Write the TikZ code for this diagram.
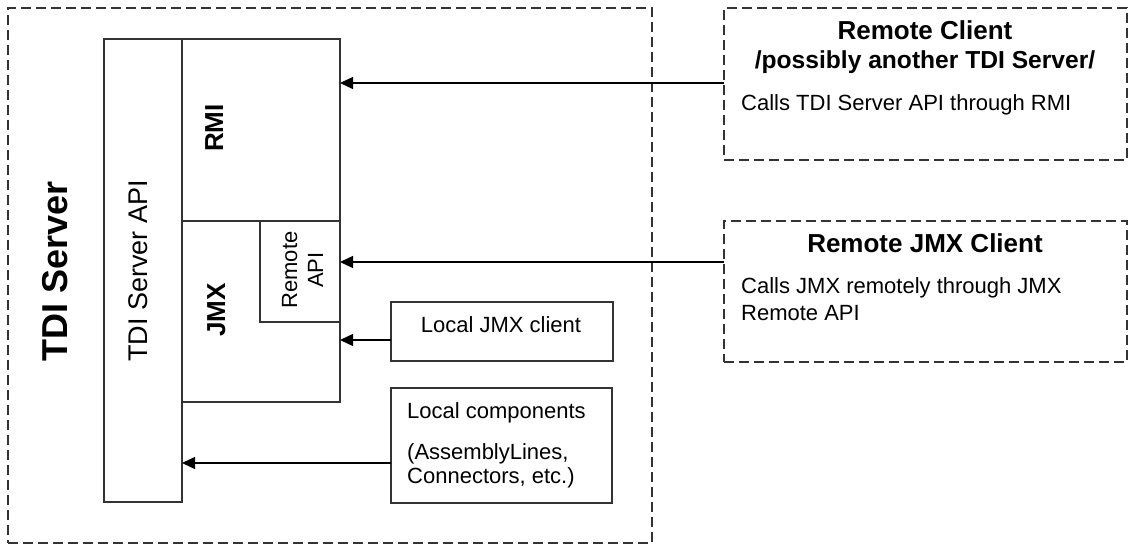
\documentclass[tikz,border=0pt]{standalone}
\usepackage{fontspec}
\setmainfont{Liberation Sans}
\usetikzlibrary{arrows.meta}
\definecolor{linegray}{HTML}{333333}
\begin{document}
\begin{tikzpicture}[x=1pt,y=-1pt,
  box/.style={draw=linegray, line width=1.4pt, anchor=north west, inner sep=0pt, outer sep=0pt},
  dbox/.style={box, dash pattern=on 10pt off 5pt},
  arr/.style={draw=black, line width=1.3pt, -{Triangle[length=13pt,width=12pt]}},
  txt/.style={inner sep=0pt, font=\fontsize{22}{26}\selectfont},
  bigtxt/.style={inner sep=0pt, font=\fontsize{27}{30}\selectfont},
  boldtxt/.style={inner sep=0pt, font=\bfseries\fontsize{26}{30}\selectfont},
  subtxt/.style={inner sep=0pt, font=\bfseries\fontsize{24.6}{28}\selectfont},
  hugetxt/.style={inner sep=0pt, font=\bfseries\fontsize{36}{40}\selectfont}
]
\useasboundingbox (0,0) rectangle (1130,545);

% containers
\node[dbox, minimum width=644pt, minimum height=535pt] (server) at (8,8) {};
\node[dbox, minimum width=403pt, minimum height=152pt] (rclient) at (724,8) {};
\node[dbox, minimum width=403pt, minimum height=141pt] (rjmx) at (724,221) {};

% inner boxes
\node[box, minimum width=78pt, minimum height=463pt] (api) at (104,39) {};
\node[box, minimum width=158pt, minimum height=182pt] (rmi) at (182,39) {};
\node[box, minimum width=158pt, minimum height=181pt] (jmx) at (182,221) {};
\node[box, minimum width=80pt, minimum height=101pt] (rapi) at (260,221) {};
\node[box, minimum width=222pt, minimum height=59pt] (localjmx) at (391,302) {};
\node[box, minimum width=221pt, minimum height=115pt] (localcomp) at (391,388) {};

% rotated labels
\node[hugetxt, rotate=90, anchor=base] (tdiserver) at (67,271) {TDI Server};
\node[bigtxt, rotate=90, anchor=base] (apilabel) at (147,271) {TDI Server API};
\node[boldtxt, rotate=90, anchor=base] (rmilabel) at (223,128) {RMI};
\node[boldtxt, rotate=90, anchor=base] (jmxlabel) at (225,310) {JMX};
\node[txt, rotate=90, anchor=base] (rapilabelA) at (297,270) {Remote};
\node[txt, rotate=90, anchor=base] (rapilabelB) at (323,270) {API};

% local boxes text
\node[txt, anchor=base] (localjmxlabel) at (501,333) {Local JMX client};
\node[txt, anchor=base west] (lcA) at (407,418) {Local components};
\node[txt, anchor=base west] (lcB) at (407,459) {(AssemblyLines,};
\node[txt, anchor=base west] (lcC) at (407,483) {Connectors, etc.)};

% remote client texts
\node[boldtxt, anchor=base] (rctitle) at (925,40) {Remote Client};
\node[subtxt, anchor=base] (rcsub) at (925,69) {/possibly another TDI Server/};
\node[txt, anchor=base west] (rcdesc) at (741,111) {Calls TDI Server API through RMI};

\node[boldtxt, anchor=base] (rjtitle) at (925,253) {Remote JMX Client};
\node[txt, anchor=base west] (rjdescA) at (741,294) {Calls JMX remotely through JMX};
\node[txt, anchor=base west] (rjdescB) at (741,320) {Remote API};

% connectors
\draw[arr] (rclient.west |- 0,83) -- (rmi.east |- 0,83);
\draw[arr] (rjmx.west |- 0,262) -- (rapi.east |- 0,262);
\draw[arr] (localjmx.west |- 0,340) -- (jmx.east |- 0,340);
\draw[arr] (localcomp.west |- 0,463) -- (api.east |- 0,463);
\end{tikzpicture}
\end{document}
